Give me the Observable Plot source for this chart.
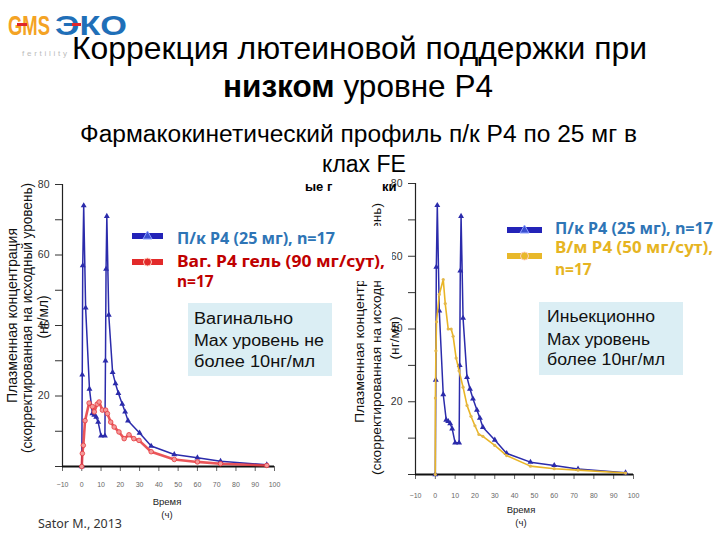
<!DOCTYPE html>
<html><head><meta charset="utf-8">
<script src="https://cdn.jsdelivr.net/npm/d3@7"></script>
<script src="https://cdn.jsdelivr.net/npm/@observablehq/plot@0.6"></script>
<style>
body{margin:0;background:#fff}
#page{position:relative;width:720px;height:540px;overflow:hidden;background:#fff}
#left{position:absolute;left:0;top:170px}
#right{position:absolute;left:350px;top:170px}
#overlay{position:absolute;left:0;top:0}
</style></head>
<body><div id="page"><div id="left"></div><div id="right"></div><svg id="overlay" width="720" height="540"></svg></div>
<script>
// ---- data ----
// subcutaneous P4 25 mg (blue)
const scHours = [0,0.25,0.5,1,2,4,5.5,6.5,7.5,8.5,10,12,12.3,12.6,13,14,16,17.5,19,21,22.5,24,30,36,48,60,72,96];
const scConc  = [0,26,57,74,45,22,15,14.6,14,12.6,8.7,8.7,30,56,71,43,26.7,23.5,20.8,17.7,15.5,13,9.5,5.8,3.4,2.5,1.5,0.5];
// vaginal gel 90 mg/day (red)
const gelHours = [0,0.3,0.8,1.7,3.8,5.5,6.5,8,9,10.7,12.4,13.3,15,16.8,19.3,22,24.5,27,29.7,36,48,60,72,96];
const gelConc  = [0,3.7,6,13,18,17,15.5,17.7,18.3,16,16,15,12.6,11.2,9.8,7.9,9,7.9,7.4,4.2,2,1.3,0.8,0.3];
// intramuscular P4 50 mg/day (yellow)
const imHours = [0,0.05,0.3,0.6,2,4,5,6.5,8,9,10.5,12,14,16,18,20,22,24,30,36,48,60,72,96];
const imConc  = [0,21,34,42,49.5,53.6,47,40,40,38,32,28.5,24,19,16,13.4,11,10.5,8,5.2,2.3,1.6,1.2,0.4];
// axes
const xTicks = [-10,0,10,20,30,40,50,60,70,80,90,100];
const yTicks = [0,10,20,30,40,50,60,70,80];
const yTickLabels = [20,40,60,80];
// legend / captions
const leftLegend = ["П/к P4 (25 мг), n=17", "Ваг. P4 гель  (90 мг/сут),", "n=17"];
const rightLegend = ["П/к P4 (25 мг), n=17", "В/м P4 (50 мг/сут),", "n=17"];
const leftBox = ["Вагинально", "Max уровень не", "более 10нг/мл"];
const rightBox = ["Иньекционно", "Max уровень", "более 10нг/мл"];
const yTitle = ["Плазменная концентрация", "(скорректированная на исходный уровень)", "(нг/мл)"];
const xTitle = ["Время", "(ч)"];

const BLUE = "#2b2bab", RED = "#e6373c", YEL = "#e9b526";
const toRows = (h, c) => h.map((t, i) => ({t, v: c[i]}));
const sc = toRows(scHours, scConc), gel = toRows(gelHours, gelConc), im = toRows(imHours, imConc);

function panel(o, extra) {
  return Plot.plot({
    width: o.w, height: o.h,
    marginLeft: o.ml, marginRight: o.mr, marginTop: o.mt, marginBottom: o.mb,
    style: {background: "transparent", overflow: "visible", fontFamily: "Liberation Sans, Arial, sans-serif"},
    x: {domain: [-10, 100]},
    y: {domain: [0, 80]},
    marks: [
      Plot.ruleX([-10], {y1: 0, y2: 80, stroke: "#222", strokeWidth: 1.2}),
      Plot.axisY({ticks: yTicks, tickSize: 7, tickPadding: 6, fontSize: 10.5, color: "#333",
        tickFormat: d => yTickLabels.includes(d) ? String(d) : "", label: null}),
      Plot.axisX({ticks: xTicks, tickSize: 5, tickPadding: o.xpad, fontSize: 7, color: "#666", label: null}),
      Plot.ruleY([0], {x1: -10, x2: 100, stroke: "#111", strokeWidth: 2}),
      ...extra
    ]
  });
}

document.getElementById("left").append(panel({w: 300, h: 330, ml: 62, mr: 26, mt: 14, mb: 34, xpad: 11}, [
  Plot.line(sc, {x: "t", y: "v", stroke: BLUE, strokeWidth: 1.5}),
  Plot.dot(sc, {x: "t", y: "v", symbol: "triangle", r: 2.2, fill: BLUE}),
  Plot.line(gel, {x: "t", y: "v", stroke: RED, strokeWidth: 2.6, strokeOpacity: 0.85}),
  Plot.dot(gel, {x: "t", y: "v", r: 2.3, fill: "#f39a9a", stroke: RED, strokeWidth: 0.8})
]));

document.getElementById("right").append(panel({w: 300, h: 340, ml: 65, mr: 17, mt: 13, mb: 36, xpad: 14}, [
  Plot.line(sc, {x: "t", y: "v", stroke: BLUE, strokeWidth: 1.5}),
  Plot.dot(sc, {x: "t", y: "v", symbol: "triangle", r: 2.2, fill: BLUE}),
  Plot.line(im, {x: "t", y: "v", stroke: YEL, strokeWidth: 1.6}),
  Plot.dot(im, {x: "t", y: "v", r: 1.6, fill: "#e3b84a"})
]));

// ---- overlay texts ----
const ov = document.getElementById("overlay");
const NS = "http://www.w3.org/2000/svg";
function el(tag, attrs) { const e = document.createElementNS(NS, tag); for (const k in attrs) e.setAttribute(k, attrs[k]); ov.appendChild(e); return e; }
function txt(s, attrs) { const e = el("text", attrs); e.textContent = s; return e; }
const ARIAL = "Liberation Sans, Arial, sans-serif";
const CALI = "Noto Sans, Open Sans, sans-serif";

// logo
txt("GMS", {x: 8, y: 35, "font-family": ARIAL, "font-weight": "bold", "font-size": 28, fill: "#f4a324", textLength: 42, lengthAdjust: "spacingAndGlyphs"});
txt("ЭКО", {x: 55, y: 35, "font-family": ARIAL, "font-weight": "bold", "font-size": 28, fill: "#1f6fb8", textLength: 72, lengthAdjust: "spacingAndGlyphs"});
el("rect", {x: 17, y: 23, width: 10, height: 3, fill: "#e0262b"});
el("rect", {x: 72, y: 23, width: 9, height: 3, fill: "#e0262b"});
txt("fertility", {x: 22, y: 56, "font-family": ARIAL, "font-size": 8, fill: "#bbb", textLength: 45, lengthAdjust: "spacing"});

// titles
txt("Коррекция лютеиновой поддержки при", {x: 72, y: 59, "font-family": ARIAL, "font-size": 32, fill: "#000", textLength: 575, lengthAdjust: "spacingAndGlyphs"});
const t2 = el("text", {x: 223, y: 97, "font-family": ARIAL, "font-size": 32, fill: "#000", textLength: 270, lengthAdjust: "spacingAndGlyphs"});
const b = document.createElementNS(NS, "tspan"); b.setAttribute("font-weight", "bold"); b.textContent = "низком"; t2.appendChild(b);
const r2 = document.createElementNS(NS, "tspan"); r2.textContent = " уровне P4"; t2.appendChild(r2);
txt("Фармакокинетический профиль п/к P4 по 25 мг в", {x: 80, y: 142, "font-family": ARIAL, "font-size": 23, fill: "#000", textLength: 557, lengthAdjust: "spacingAndGlyphs"});
txt("клах FE", {x: 364, y: 172, "font-family": ARIAL, "font-size": 23, fill: "#000", "text-anchor": "middle"});
txt("ые г", {x: 305, y: 191, "font-family": ARIAL, "font-weight": "bold", "font-size": 13, fill: "#000"});
txt("ки", {x: 382, y: 191, "font-family": ARIAL, "font-weight": "bold", "font-size": 13, fill: "#000"});

// y-axis titles (rotated)
function ytitle(xs, cys, lens, size) {
  yTitle.forEach((s, i) => {
    txt(s, {transform: `translate(${xs[i]},${cys[i]}) rotate(-90)`, "text-anchor": "middle", "font-family": ARIAL,
      "font-size": size, fill: "#111", textLength: lens[i], lengthAdjust: "spacingAndGlyphs"});
  });
}
ytitle([17, 32, 48], [315.5, 318, 317], [175, 270, 43], 14);
ytitle([364, 381, 399], [335.5, 339, 338], [175, 272, 43], 13.5);
// white area of the left legend covering part of the right axis title
el("rect", {x: 345, y: 226, width: 47, height: 55, fill: "#fff"});

// x-axis titles
[[167, 505, 518], [521, 513, 526]].forEach(([cx, y1, y2]) => {
  txt(xTitle[0], {x: cx, y: y1, "text-anchor": "middle", "font-family": ARIAL, "font-size": 9.5, fill: "#222"});
  txt(xTitle[1], {x: cx, y: y2, "text-anchor": "middle", "font-family": ARIAL, "font-size": 9.5, fill: "#222"});
});

// legends
function swatch(x1, x2, y, color, shape) {
  el("line", {x1, x2, y1: y, y2: y, stroke: color, "stroke-width": 6});
  const cx = (x1 + x2) / 2;
  if (shape === "tri") el("path", {d: `M${cx},${y-5}L${cx+4.5},${y+3}L${cx-4.5},${y+3}Z`, fill: "#3a4fd0", stroke: "#8da0ff", "stroke-width": 1});
  else el("circle", {cx, cy: y, r: 4, fill: color, stroke: "#ffd0c0", "stroke-width": 1});
}
swatch(132, 163, 236, "#2323b8", "tri");
swatch(132, 163, 262, "#e22a2a", "dot");
txt(leftLegend[0], {x: 177, y: 244, "font-family": CALI, "font-weight": "bold", "font-size": 15.5, fill: "#2e75b6", textLength: 158, lengthAdjust: "spacingAndGlyphs"});
txt(leftLegend[1], {x: 177, y: 267, "font-family": CALI, "font-weight": "bold", "font-size": 15.5, fill: "#c00000", textLength: 208, lengthAdjust: "spacingAndGlyphs"});
txt(leftLegend[2], {x: 177, y: 287, "font-family": CALI, "font-weight": "bold", "font-size": 15.5, fill: "#c00000"});
swatch(507, 542, 230, "#2323b8", "tri");
swatch(507, 542, 256, "#e8b82a", "dot");
txt(rightLegend[0], {x: 555, y: 234, "font-family": CALI, "font-weight": "bold", "font-size": 15.5, fill: "#2e75b6", textLength: 158, lengthAdjust: "spacingAndGlyphs"});
txt(rightLegend[1], {x: 555, y: 253, "font-family": CALI, "font-weight": "bold", "font-size": 15.5, fill: "#e6b422", textLength: 158, lengthAdjust: "spacingAndGlyphs"});
txt(rightLegend[2], {x: 555, y: 275, "font-family": CALI, "font-weight": "bold", "font-size": 15.5, fill: "#e6b422"});

// note boxes
el("rect", {x: 188, y: 303, width: 144, height: 73, fill: "#dbeef4"});
[[99, 324], [130, 346], [121, 367]].forEach(([len, y], i) =>
  txt(leftBox[i], {x: 194, y, "font-family": ARIAL, "font-size": 16, fill: "#111", textLength: len, lengthAdjust: "spacingAndGlyphs"}));
el("rect", {x: 539, y: 302, width: 144, height: 73, fill: "#dbeef4"});
[[108, 322], [103, 345], [118, 365]].forEach(([len, y], i) =>
  txt(rightBox[i], {x: 547, y, "font-family": ARIAL, "font-size": 16, fill: "#111", textLength: len, lengthAdjust: "spacingAndGlyphs"}));

// source
txt("Sator M., 2013", {x: 38, y: 528, "font-family": CALI, "font-size": 13, fill: "#333", textLength: 84, lengthAdjust: "spacingAndGlyphs"});
</script>
</body></html>
